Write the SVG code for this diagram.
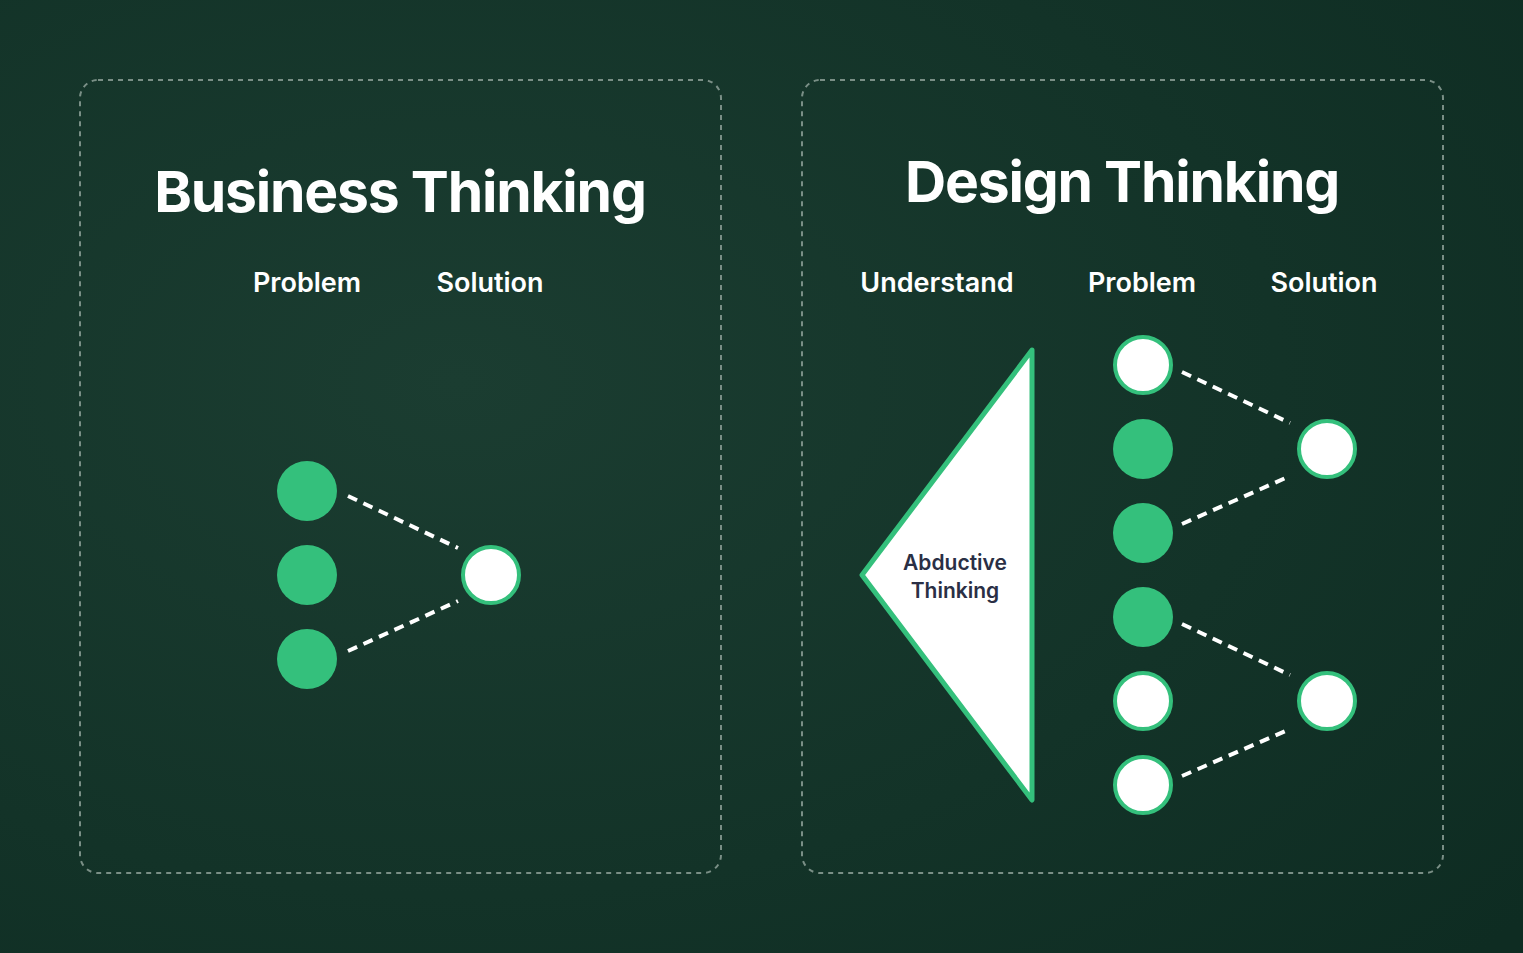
<svg xmlns="http://www.w3.org/2000/svg" width="1523" height="953" viewBox="0 0 1523 953">
<defs>
<radialGradient id="bg" cx="0.3" cy="0.4" r="0.9">
<stop offset="0" stop-color="#1b3d31"/><stop offset="0.6" stop-color="#133328"/><stop offset="1" stop-color="#0e2c22"/>
</radialGradient>
<style>
.panel{fill:none;stroke:#7a8f86;stroke-width:2;stroke-dasharray:5 5}
.g{fill:#34c07c}
.w{fill:#fff;stroke:#34c07c;stroke-width:4}
.c{stroke:#fff;stroke-width:4;stroke-dasharray:10 7;fill:none}
.t{font-family:Inter,"Liberation Sans",sans-serif;fill:#fff;text-anchor:middle}
.h{font-size:57px;font-weight:700;letter-spacing:-1.2px}
.s{font-size:27px;font-weight:600}
</style>
</defs>
<rect width="1523" height="953" fill="url(#bg)"/>
<g id="left-panel">
<rect class="panel" x="80" y="80" width="641" height="793" rx="18"/>
<text class="t h" x="400" y="212">Business Thinking</text>
<text class="t s" x="307" y="292">Problem</text>
<text class="t s" x="490" y="292">Solution</text>
</g>
<g id="right-panel">
<rect class="panel" x="802" y="80" width="641" height="793" rx="18"/>
<text class="t h" x="1122" y="202">Design Thinking</text>
<text class="t s" x="937" y="292">Understand</text>
<text class="t s" x="1142" y="292">Problem</text>
<text class="t s" x="1324" y="292">Solution</text>
</g>
<g id="connectors">
<path class="c" d="M348 496L458 548M348 651L458 601M1182 372L1290 423M1182 524L1290 476M1182 624L1290 675M1182 776L1290 729"/>
</g>
<g id="bp1"><circle class="g" cx="307" cy="491" r="30"/></g>
<g id="bp2"><circle class="g" cx="307" cy="575" r="30"/></g>
<g id="bp3"><circle class="g" cx="307" cy="659" r="30"/></g>
<g id="bs1"><circle class="w" cx="491" cy="575" r="28"/></g>
<g id="abductive">
<path d="M1032 350L862 575L1032 800Z" fill="#fff" stroke="#34c07c" stroke-width="5" stroke-linejoin="round"/>
<text x="955" y="570" font-family="Inter,'Liberation Sans',sans-serif" font-size="21" font-weight="600" fill="#2a2f45" text-anchor="middle">Abductive</text>
<text x="955" y="598" font-family="Inter,'Liberation Sans',sans-serif" font-size="21" font-weight="600" fill="#2a2f45" text-anchor="middle">Thinking</text>
</g>
<g id="dp1"><circle class="w" cx="1143" cy="365" r="28"/></g>
<g id="dp2"><circle class="g" cx="1143" cy="449" r="30"/></g>
<g id="dp3"><circle class="g" cx="1143" cy="533" r="30"/></g>
<g id="dp4"><circle class="g" cx="1143" cy="617" r="30"/></g>
<g id="dp5"><circle class="w" cx="1143" cy="701" r="28"/></g>
<g id="dp6"><circle class="w" cx="1143" cy="785" r="28"/></g>
<g id="ds1"><circle class="w" cx="1327" cy="449" r="28"/></g>
<g id="ds2"><circle class="w" cx="1327" cy="701" r="28"/></g>
</svg>
